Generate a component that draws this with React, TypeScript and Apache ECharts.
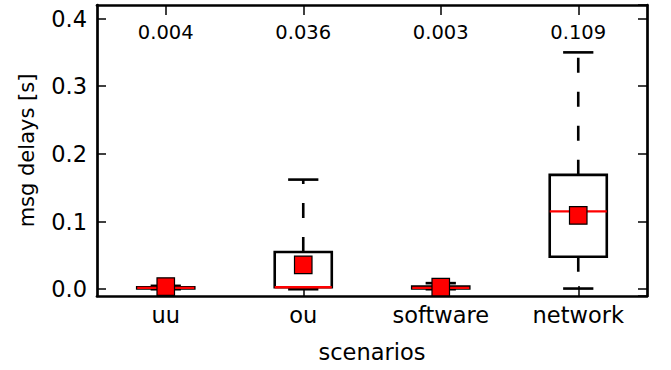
import React, { useEffect, useRef } from "react";
import * as echarts from "echarts";

const categories = ["uu", "ou", "software", "network"];
const whiskerLow = [0.0, 0.0, 0.0, 0.001];
const q1 = [0.001, 0.003, 0.001, 0.048];
const medians = [0.002, 0.003, 0.002, 0.115];
const q3 = [0.003, 0.055, 0.004, 0.169];
const whiskerHigh = [0.005, 0.162, 0.009, 0.35];
const means = [0.004, 0.036, 0.003, 0.109];
const meanLabels = ["0.004", "0.036", "0.003", "0.109"];
const yTickLabels = ["0.0", "0.1", "0.2", "0.3", "0.4"];

const FONT = "DejaVu Sans";

export default function App() {
  const ref = useRef<HTMLDivElement>(null);
  useEffect(() => {
    if (!ref.current) return;
    const chart = echarts.init(ref.current, undefined, { renderer: "svg" });
    const data = categories.map((_, i) => [
      i,
      whiskerLow[i],
      q1[i],
      medians[i],
      q3[i],
      whiskerHigh[i],
      means[i],
    ]);
    const axisLine = { show: true, onZero: false, lineStyle: { color: "#000", width: 2.7 } };
    const tickStyle = { color: "#000", width: 1.5 };
    const yFormatter = (v: number) => {
      const s = v.toFixed(1);
      return yTickLabels.includes(s) && Math.abs(v * 10 - Math.round(v * 10)) < 1e-6 ? s : "";
    };
    const option: any = {
      animation: false,
      grid: { left: 97, right: 24, top: 5, bottom: 74 },
      xAxis: [
        {
          type: "category",
          data: categories,
          position: "bottom",
          axisLine,
          axisTick: { show: true, inside: true, alignWithLabel: true, length: 10, lineStyle: tickStyle },
          axisLabel: { color: "#000", fontSize: 22.5, fontFamily: FONT, margin: 7 },
          name: "scenarios",
          nameLocation: "middle",
          nameGap: 44,
          nameTextStyle: { color: "#000", fontSize: 22.5, fontFamily: FONT },
          splitLine: { show: false },
        },
        {
          type: "category",
          data: categories,
          position: "top",
          axisLine,
          axisTick: { show: true, inside: true, alignWithLabel: true, length: 10, lineStyle: tickStyle },
          axisLabel: { show: false },
          splitLine: { show: false },
        },
      ],
      yAxis: [
        {
          type: "value",
          min: -0.01,
          max: 0.42,
          splitNumber: 4,
          position: "left",
          axisLine,
          axisTick: { show: true, inside: true, length: 9, lineStyle: tickStyle },
          axisLabel: {
            color: "#000",
            fontSize: 22.5,
            fontFamily: FONT,
            margin: 10,
            showMinLabel: false,
            showMaxLabel: false,
            formatter: yFormatter,
          },
          splitLine: { show: false },
          name: "msg delays [s]",
          nameLocation: "middle",
          nameGap: 60,
          nameRotate: 90,
          nameTextStyle: { color: "#000", fontSize: 21, fontFamily: FONT },
        },
        {
          type: "value",
          min: -0.01,
          max: 0.42,
          splitNumber: 4,
          position: "right",
          axisLine,
          axisTick: { show: true, inside: true, length: 9, lineStyle: tickStyle },
          axisLabel: { show: false },
          splitLine: { show: false },
        },
      ],
      series: [
        {
          type: "custom",
          xAxisIndex: 0,
          yAxisIndex: 0,
          data,
          encode: { x: 0, y: [1, 2, 3, 4, 5, 6] },
          z: 10,
          clip: false,
          renderItem: (params: any, api: any) => {
            const i = api.value(0);
            const bw = api.size([1, 0])[0];
            const boxW = bw * 0.415;
            const capW = boxW * 0.53;
            const cx = api.coord([i, 0])[0];
            const y = (k: number) => api.coord([i, api.value(k)])[1];
            const yLow = y(1), yQ1 = y(2), yMed = y(3), yQ3 = y(4), yHigh = y(5), yMean = y(6);
            const black = { stroke: "#000", lineWidth: 2.6 };
            const sq = 17.5;
            return {
              type: "group",
              children: [
                { type: "line", shape: { x1: cx, y1: yQ3, x2: cx, y2: yHigh }, style: { ...black, lineDash: [15, 19] } },
                { type: "line", shape: { x1: cx, y1: yQ1, x2: cx, y2: yLow }, style: { ...black, lineDash: [15, 19] } },
                { type: "line", shape: { x1: cx - capW / 2, y1: yHigh, x2: cx + capW / 2, y2: yHigh }, style: black },
                { type: "line", shape: { x1: cx - capW / 2, y1: yLow, x2: cx + capW / 2, y2: yLow }, style: black },
                {
                  type: "rect",
                  shape: { x: cx - boxW / 2, y: yQ3, width: boxW, height: Math.max(yQ1 - yQ3, 0.5) },
                  style: { fill: "none", ...black },
                },
                { type: "line", shape: { x1: cx - boxW / 2, y1: yMed, x2: cx + boxW / 2, y2: yMed }, style: { stroke: "#ff0000", lineWidth: 2.4 } },
                {
                  type: "rect",
                  shape: { x: cx - sq / 2, y: yMean - sq / 2, width: sq, height: sq },
                  style: { fill: "#ff0000", stroke: "#000", lineWidth: 1.2 },
                },
                {
                  type: "text",
                  x: cx,
                  y: params.coordSys.y + 27,
                  style: {
                    text: meanLabels[i],
                    fill: "#000",
                    fontSize: 19.5,
                    fontFamily: FONT,
                    align: "center",
                    verticalAlign: "middle",
                  },
                },
              ],
            };
          },
        },
      ],
    };
    chart.setOption(option);
    return () => chart.dispose();
  }, []);
  return (
    <div
      ref={ref}
      style={{ position: "fixed", left: 0, top: 0, width: 671, height: 370, background: "#fff" }}
    />
  );
}
